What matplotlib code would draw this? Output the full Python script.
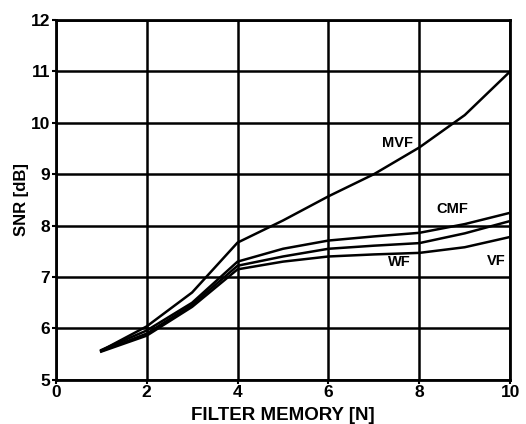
import matplotlib
matplotlib.use('Agg')
import matplotlib.pyplot as plt

# 讀出的數值
memory = [1, 2, 3, 4, 5, 6, 7, 8, 9, 10]
snr_mvf = [5.57, 6.04, 6.70, 7.67, 8.10, 8.57, 9.00, 9.52, 10.15, 11.00]
snr_cmf = [5.58, 5.96, 6.50, 7.30, 7.55, 7.71, 7.79, 7.86, 8.03, 8.25]
snr_wf = [5.56, 5.90, 6.46, 7.22, 7.40, 7.55, 7.61, 7.66, 7.85, 8.09]
snr_vf = [5.55, 5.86, 6.42, 7.15, 7.30, 7.40, 7.44, 7.47, 7.58, 7.78]

labels = ['MVF', 'CMF', 'WF', 'VF']
label_x = [7.53, 8.72, 7.55, 9.70]
label_y = [9.60, 8.33, 7.30, 7.32]

plt.rcParams['font.family'] = ['Liberation Sans', 'DejaVu Sans']
plt.rcParams['font.weight'] = 'bold'

fig = plt.figure(figsize=(5.26, 4.24), dpi=100)
ax = fig.add_axes([0.106, 0.104, 0.864, 0.849])

for ys in (snr_mvf, snr_cmf, snr_wf, snr_vf):
    ax.plot(memory, ys, color='black', lw=1.8)

for t, x, y in zip(labels, label_x, label_y):
    ax.text(x, y, t, ha='center', va='center', fontsize=10.5, fontweight='bold')

ax.set_xlim(0, 10)
ax.set_ylim(5, 12)
ax.set_xticks(range(0, 11, 2))
ax.set_yticks(range(5, 13))
ax.grid(True, color='black', lw=1.8)
ax.set_axisbelow(True)
for s in ax.spines.values():
    s.set_linewidth(2)
ax.tick_params(direction='out', length=3, width=1.5, labelsize=12.5, pad=1)

ax.set_xlabel('FILTER MEMORY [N]', fontsize=13.5, fontweight='bold')
ax.xaxis.set_label_coords(0.5, -0.075)
ax.set_ylabel('SNR [dB]', fontsize=12, fontweight='bold')
ax.yaxis.set_label_coords(-0.058, 0.5)

plt.savefig('out.png', dpi=100)
